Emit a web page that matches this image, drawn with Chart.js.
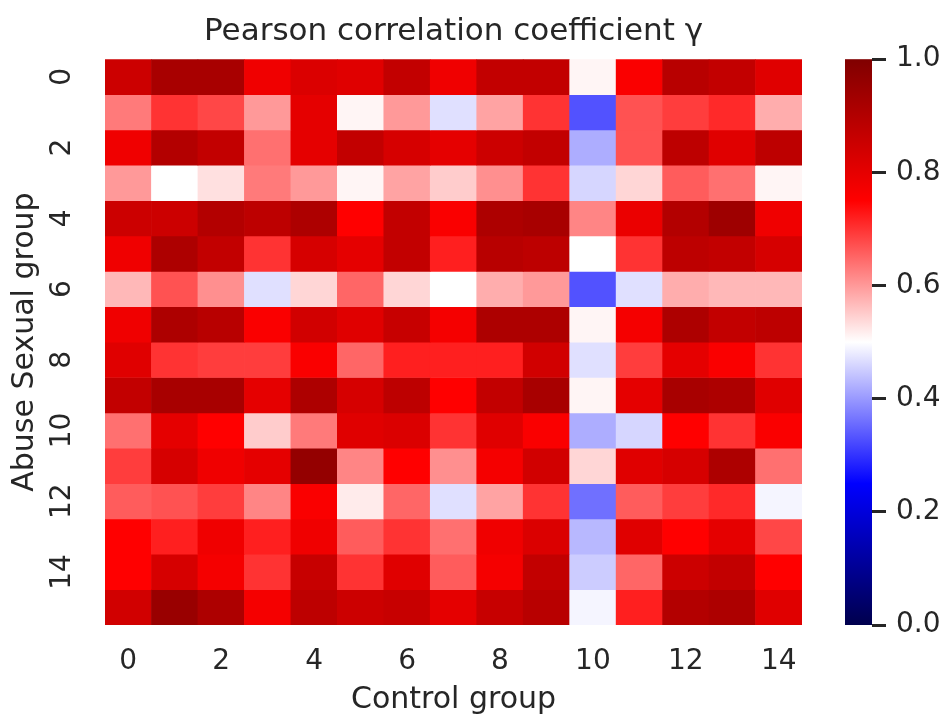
<!DOCTYPE html>
<html>
<head>
<meta charset="utf-8">
<script src="https://cdn.jsdelivr.net/npm/chart.js@4/dist/chart.umd.min.js"></script>
<style>
  html, body { margin: 0; padding: 0; background: #fff; }
  #wrap { width: 946px; height: 715px; }
</style>
</head>
<body>
<div id="wrap"><canvas id="heat" width="946" height="715"></canvas></div>
<script>
// 对照组列标签
const controlLabels = ['0', '1', '2', '3', '4', '5', '6', '7', '8', '9', '10', '11', '12', '13', '14'];
// 每行 = 一个受虐组样本，与对照组的相关系数
const row0  = [0.85, 0.92, 0.92, 0.78, 0.82, 0.81, 0.87, 0.78, 0.87, 0.87, 0.51, 0.76, 0.89, 0.87, 0.81];
const row1  = [0.63, 0.70, 0.68, 0.60, 0.80, 0.51, 0.60, 0.47, 0.59, 0.70, 0.33, 0.67, 0.69, 0.71, 0.58];
const row2  = [0.78, 0.90, 0.87, 0.64, 0.80, 0.87, 0.83, 0.80, 0.85, 0.87, 0.42, 0.67, 0.88, 0.81, 0.88];
const row3  = [0.60, 0.50, 0.53, 0.63, 0.60, 0.51, 0.59, 0.55, 0.61, 0.70, 0.46, 0.54, 0.66, 0.64, 0.51];
const row4  = [0.85, 0.85, 0.90, 0.88, 0.91, 0.75, 0.87, 0.76, 0.91, 0.92, 0.62, 0.79, 0.90, 0.94, 0.78];
const row5  = [0.78, 0.91, 0.87, 0.70, 0.83, 0.80, 0.87, 0.72, 0.89, 0.88, 0.50, 0.70, 0.88, 0.87, 0.83];
const row6  = [0.57, 0.67, 0.61, 0.47, 0.54, 0.65, 0.54, 0.50, 0.58, 0.60, 0.33, 0.47, 0.58, 0.57, 0.57];
const row7  = [0.78, 0.91, 0.89, 0.76, 0.84, 0.81, 0.86, 0.77, 0.91, 0.91, 0.51, 0.77, 0.91, 0.87, 0.88];
const row8  = [0.81, 0.70, 0.69, 0.69, 0.76, 0.65, 0.72, 0.72, 0.72, 0.84, 0.47, 0.69, 0.80, 0.76, 0.70];
const row9  = [0.87, 0.92, 0.92, 0.80, 0.91, 0.83, 0.88, 0.75, 0.87, 0.92, 0.51, 0.80, 0.92, 0.91, 0.81];
const row10 = [0.64, 0.80, 0.75, 0.55, 0.63, 0.81, 0.82, 0.70, 0.81, 0.76, 0.42, 0.46, 0.75, 0.70, 0.76];
const row11 = [0.69, 0.83, 0.78, 0.80, 0.96, 0.62, 0.75, 0.61, 0.77, 0.84, 0.54, 0.81, 0.83, 0.91, 0.64];
const row12 = [0.66, 0.67, 0.69, 0.62, 0.76, 0.52, 0.65, 0.47, 0.59, 0.70, 0.36, 0.66, 0.69, 0.71, 0.49];
const row13 = [0.75, 0.72, 0.78, 0.72, 0.78, 0.66, 0.70, 0.64, 0.78, 0.82, 0.43, 0.81, 0.75, 0.80, 0.68];
const row14 = [0.75, 0.83, 0.77, 0.70, 0.86, 0.70, 0.81, 0.66, 0.77, 0.87, 0.45, 0.65, 0.85, 0.87, 0.75];
const row15 = [0.84, 0.95, 0.91, 0.77, 0.88, 0.85, 0.86, 0.80, 0.86, 0.89, 0.49, 0.72, 0.90, 0.91, 0.81];
const abuseRows = [row0, row1, row2, row3, row4, row5, row6, row7, row8, row9, row10, row11, row12, row13, row14, row15];
// 色条刻度
const colorbarTicks = [0, 0.2, 0.4, 0.6, 0.8, 1.0];

const TEXT = '#262626';
const FONT = 'DejaVu Sans';

// seismic 色图 (0 -> 深蓝, 0.5 -> 白, 1 -> 深红)
const seismicStops = [
    [0.00, 0, 0, 76.5],
    [0.25, 0, 0, 255],
    [0.50, 255, 255, 255],
    [0.75, 255, 0, 0],
    [1.00, 127.5, 0, 0]
];
function seismic(v) {
    v = Math.max(0, Math.min(1, v));
    for (let i = 1; i < seismicStops.length; i++) {
        const a = seismicStops[i - 1], b = seismicStops[i];
        if (v <= b[0]) {
            const t = (v - a[0]) / (b[0] - a[0]);
            const c = [1, 2, 3].map(k => Math.round(a[k] + (b[k] - a[k]) * t));
            return `rgb(${c[0]},${c[1]},${c[2]})`;
        }
    }
    return 'rgb(128,0,0)';
}

// 每行一个数据集，浮动柱 [r, r+1] 充当格子
const datasets = abuseRows.map((vals, r) => ({
    label: 'row ' + r,
    data: vals.map(() => [r, r + 1]),
    backgroundColor: vals.map(seismic),
    borderWidth: 0,
    categoryPercentage: 1,
    barPercentage: 1,
    xAxisID: 'x',
    yAxisID: 'y'
}));

// 色条：画在 gap 轴右侧，刻度由 cb 轴给出
const colorbarPlugin = {
    id: 'colorbar',
    afterDraw(chart) {
        const cb = chart.scales.cb, gap = chart.scales.gap;
        const ctx = chart.ctx;
        const top = cb.getPixelForValue(1), bottom = cb.getPixelForValue(0);
        const x1 = gap.right, x0 = x1 - 27;
        const grad = ctx.createLinearGradient(0, bottom, 0, top);
        seismicStops.forEach(s => grad.addColorStop(s[0], `rgb(${s[1]},${s[2]},${s[3]})`));
        ctx.save();
        ctx.fillStyle = grad;
        ctx.fillRect(x0, top, x1 - x0, bottom - top);
        ctx.restore();
    }
};

new Chart(document.getElementById('heat'), {
    type: 'bar',
    data: { labels: controlLabels, datasets: datasets },
    plugins: [colorbarPlugin],
    options: {
        responsive: false,
        animation: false,
        events: [],
        layout: { padding: 0 },
        plugins: {
            legend: { display: false },
            tooltip: { enabled: false },
            title: {
                display: true,
                fullSize: false,
                text: 'Pearson correlation coefficient γ',
                color: TEXT,
                font: { family: FONT, size: 31, weight: 'normal', lineHeight: 1.2 },
                padding: { top: 13, bottom: 9 }
            }
        },
        scales: {
            x: {
                type: 'category',
                stacked: true,
                grid: { display: false, drawTicks: false },
                border: { display: false },
                ticks: {
                    autoSkip: false,
                    maxRotation: 0,
                    padding: 20,
                    color: TEXT,
                    font: { family: FONT, size: 28 },
                    callback: (v, i) => (i % 2 === 0 ? controlLabels[i] : '')
                },
                title: {
                    display: true,
                    text: 'Control group',
                    color: TEXT,
                    font: { family: FONT, size: 30, lineHeight: 1 },
                    padding: { top: 0, bottom: 0 }
                },
                afterFit: s => { s.height = 90; }
            },
            y: {
                type: 'linear',
                position: 'left',
                stacked: false,
                reverse: true,
                min: 0,
                max: abuseRows.length,
                grid: { display: false, drawTicks: false },
                border: { display: false },
                afterBuildTicks: s => {
                    s.ticks = abuseRows.map((_, r) => r).filter(r => r % 2 === 0).map(r => ({ value: r + 0.5 }));
                },
                ticks: {
                    minRotation: 90,
                    maxRotation: 90,
                    crossAlign: 'center',
                    padding: 24,
                    color: TEXT,
                    font: { family: FONT, size: 28 },
                    callback: v => String(v - 0.5)
                },
                title: {
                    display: true,
                    text: 'Abuse Sexual group',
                    color: TEXT,
                    font: { family: FONT, size: 30, lineHeight: 1 },
                    padding: { top: 10, bottom: 0 }
                },
                afterFit: s => { s.width = 105; }
            },
            gap: {
                type: 'linear',
                position: 'right',
                weight: 0,
                grid: { display: false },
                border: { display: false },
                ticks: { display: false },
                afterFit: s => { s.width = 70; }
            },
            cb: {
                type: 'linear',
                position: 'right',
                weight: 1,
                min: 0,
                max: 1,
                grid: { display: true, drawOnChartArea: false, drawTicks: true, tickLength: 14, tickWidth: 3, tickColor: TEXT },
                border: { display: false },
                afterBuildTicks: s => { s.ticks = colorbarTicks.map(v => ({ value: v })); },
                ticks: {
                    padding: 10,
                    color: TEXT,
                    font: { family: FONT, size: 28 },
                    callback: v => v.toFixed(1)
                },
                afterFit: s => { s.width = 74; }
            }
        }
    }
});
</script>
</body>
</html>
